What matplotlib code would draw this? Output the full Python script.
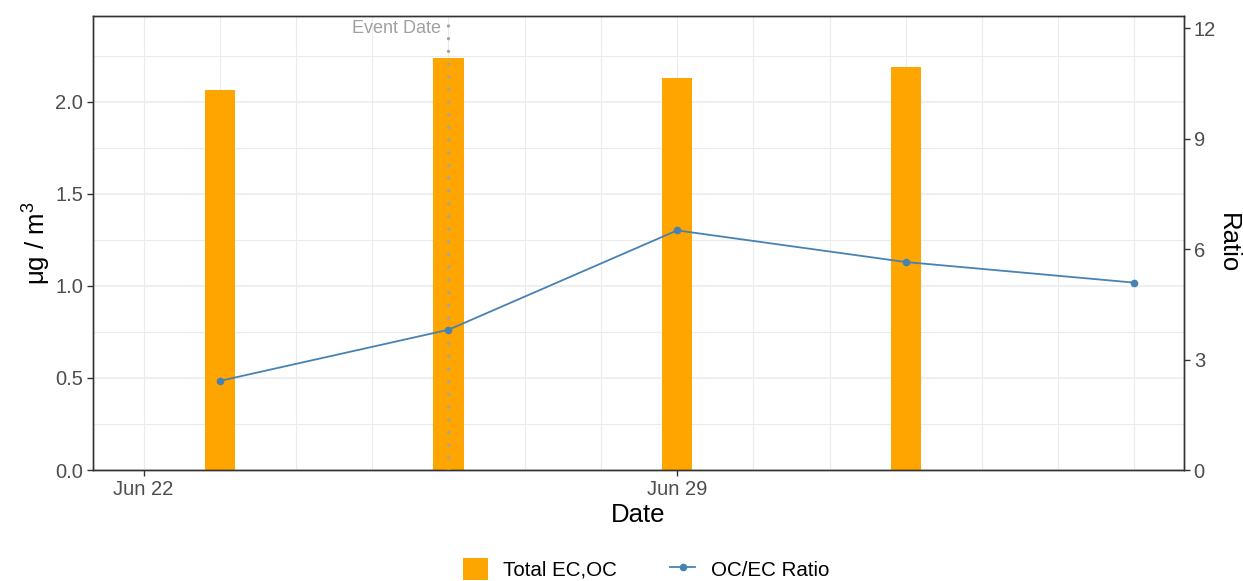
import matplotlib
matplotlib.use("Agg")
import matplotlib.pyplot as plt
import matplotlib.dates as mdates
from matplotlib.patches import Patch
from matplotlib.lines import Line2D
import numpy as np
import datetime as dt

plt.rcParams['font.family'] = ['Liberation Sans', 'DejaVu Sans']
plt.rcParams['mathtext.fontset'] = 'custom'
plt.rcParams['mathtext.rm'] = 'Liberation Sans'
plt.rcParams['mathtext.it'] = 'Liberation Sans:italic'

# ---- data ----
bar_dates = ["2023-06-23", "2023-06-26", "2023-06-29", "2023-07-02"]
total_ec_oc = [2.065, 2.239, 2.128, 2.190]
ratio_dates = ["2023-06-23", "2023-06-26", "2023-06-29", "2023-07-02", "2023-07-05"]
oc_ec_ratio = [2.42, 3.81, 6.51, 5.65, 5.09]
event_date = "2023-06-26"
major_ticks = ["2023-06-22", "2023-06-29"]
major_labels = ["Jun 22", "Jun 29"]
ratio_scale = 5.0

def d(s):
    return mdates.date2num(dt.datetime.strptime(s, "%Y-%m-%d"))

bx = [d(s) for s in bar_dates]
rx = [d(s) for s in ratio_dates]

L, R, T, B = 93, 1184, 16, 470
fig = plt.figure(figsize=(12.43, 5.81), dpi=100)
ax = fig.add_axes([L/1243, 1-B/581, (R-L)/1243, (B-T)/581])

x0 = d("2023-06-22")
ax.set_xlim(x0 - 0.663, x0 + 13.65)
ax.set_ylim(0, 2.467)

# grid
for k in range(-1, 15):
    ax.axvline(x0 + k, color='#EBEBEB', lw=0.8, zorder=0)
for yv in np.arange(0, 2.5, 0.25):
    ax.axhline(yv, color='#EBEBEB', lw=1.1 if abs(yv*2 - round(yv*2)) < 1e-9 else 0.8, zorder=0)

ax.bar(bx, total_ec_oc, width=0.40, color='#FFA500', zorder=2)

ax2 = ax.twinx()
ax2.set_ylim(0, 2.467*ratio_scale)

# event date line
ev = d(event_date)
ax2.axvline(ev, color='#A3A3A3', lw=2.4, linestyle=(0, (0.01, 3.8)), dash_capstyle='round', zorder=3)
ax2.text(ev - 0.1, 12.0, "Event Date", ha='right', va='center', fontsize=13, color='#A0A0A0', zorder=6)

ax2.plot(rx, oc_ec_ratio, color='#4682B4', lw=1.3, marker='o', markersize=4.5, zorder=4)

ax.set_xticks([d(s) for s in major_ticks])
ax.set_xticklabels(major_labels)
ax.set_yticks([0, 0.5, 1.0, 1.5, 2.0])
ax.set_yticklabels(["0.0", "0.5", "1.0", "1.5", "2.0"])
ax2.set_yticks([0, 3, 6, 9, 12])

for a in (ax, ax2):
    a.tick_params(axis='both', labelsize=14.5, labelcolor='#4D4D4D', color='#333333',
                  length=4, width=1.0, pad=3)
    for sp in a.spines.values():
        sp.set_color('#333333')
        sp.set_linewidth(1.0)

ax.set_xlabel("Date", fontsize=18.5)
ax.xaxis.set_label_coords(0.5, (B-515)/(B-T))
ax.xaxis.label.set_va('center')
ax.set_ylabel(r"μg / m$^{\mathrm{3}}$", fontsize=18.5)
ax.yaxis.set_label_coords((37-L)/(R-L), 0.5)
ax.yaxis.label.set_va('center')
ax2.set_ylabel("Ratio", fontsize=18.5, rotation=270)
ax2.yaxis.set_label_coords((1228-L)/(R-L), 0.5)
ax2.yaxis.label.set_va('center')

handles = [Patch(facecolor='#FFA500', edgecolor='none'),
           Line2D([0], [0], color='#4682B4', lw=1.3, marker='o', markersize=4.5)]
fig.legend(handles, ["Total EC,OC", "OC/EC Ratio"], loc='center', ncol=2,
           bbox_to_anchor=(646/1243, 1-569/581), frameon=False, fontsize=14.8,
           handlelength=1.2, handleheight=1.3, handletextpad=0.75, columnspacing=2.6)

fig.savefig("out.png", dpi=100)
